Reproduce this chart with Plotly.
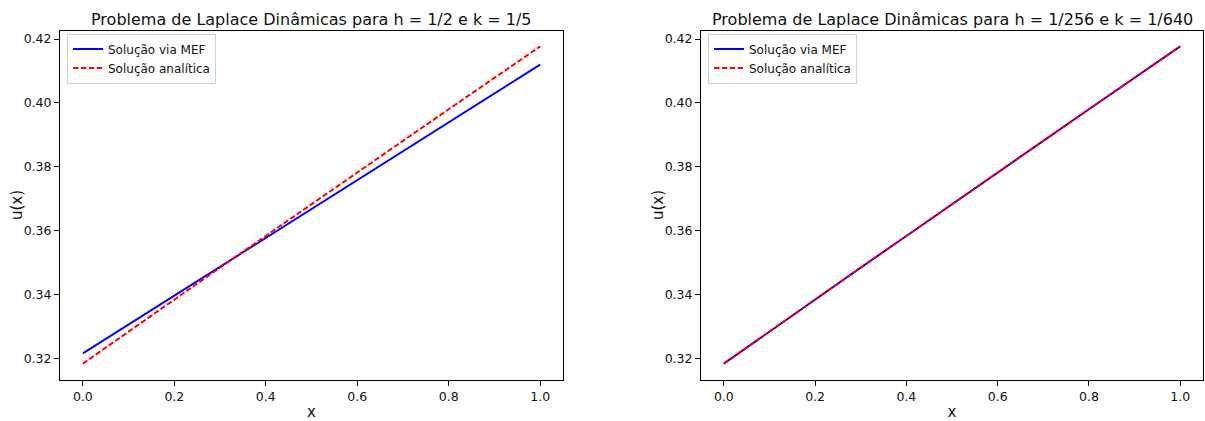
import plotly.graph_objects as go

# Coarse mesh (h = 1/2): finite element nodal values
x_mef_coarse = [0.0, 0.5, 1.0]
u_mef_coarse = [0.3215, 0.3668, 0.4120]

# Fine mesh (h = 1/256): finite element values, sampled
x_mef_fine = [0.0, 0.1, 0.2, 0.3, 0.4, 0.5, 0.6, 0.7, 0.8, 0.9, 1.0]
u_mef_fine = [0.3183, 0.3284, 0.3384, 0.3484, 0.3583, 0.3683, 0.3782, 0.3881, 0.3980, 0.4079, 0.4177]

# Analytic solution, sampled
x_exact = [0.0, 0.1, 0.2, 0.3, 0.4, 0.5, 0.6, 0.7, 0.8, 0.9, 1.0]
u_exact = [0.3183, 0.3284, 0.3384, 0.3484, 0.3583, 0.3683, 0.3782, 0.3881, 0.3980, 0.4079, 0.4177]

titles = [
    "Problema de Laplace Dinâmicas para h = 1/2 e k = 1/5",
    "Problema de Laplace Dinâmicas para h = 1/256 e k = 1/640",
]
x_ticks = [0.0, 0.2, 0.4, 0.6, 0.8, 1.0]
y_ticks = [0.32, 0.34, 0.36, 0.38, 0.40, 0.42]

FONT = "DejaVu Sans"
W, H = 1205, 421

fig = go.Figure()

panels = [
    (x_mef_coarse, u_mef_coarse, "", "legend"),
    (x_mef_fine, u_mef_fine, "2", "legend2"),
]
for (xm, um, sfx, leg) in panels:
    fig.add_trace(go.Scatter(
        x=xm, y=um, mode="lines", name="Solução via MEF",
        line=dict(color="#0000ff", width=2),
        xaxis="x" + sfx, yaxis="y" + sfx, legend=leg,
    ))
    fig.add_trace(go.Scatter(
        x=x_exact, y=u_exact, mode="lines", name="Solução analítica",
        line=dict(color="#ff0000", width=2, dash="5.5px,2.4px"),
        xaxis="x" + sfx, yaxis="y" + sfx, legend=leg,
    ))


def auto_range(vals):
    lo, hi = min(vals), max(vals)
    pad = 0.05 * (hi - lo)
    return [lo - pad, hi + pad]


xr = auto_range([0.0, 1.0])
yr_left = auto_range(u_mef_coarse + u_exact)
yr_right = auto_range(u_mef_fine + u_exact)

# Axes areas in pixels (left, right, top, bottom)
boxes = [(60, 563, 31, 385), (701, 1203, 31, 385)]


def px_x(p):
    return p / W


def px_y(p):
    return 1 - p / H


axis_common = dict(
    showline=True, linecolor="#000", linewidth=1, mirror=True,
    ticks="outside", ticklen=5, tickwidth=1, tickcolor="#000",
    showgrid=False, zeroline=False,
    tickfont=dict(family=FONT, size=12.5, color="#111"),
)

layout = dict(
    width=W, height=H,
    margin=dict(l=0, r=0, t=0, b=0),
    paper_bgcolor="white", plot_bgcolor="white",
    font=dict(family=FONT, color="#111"),
    annotations=[],
)

for i, (l, r, t, b) in enumerate(boxes):
    sfx = "" if i == 0 else "2"
    yr = yr_left if i == 0 else yr_right
    layout["xaxis" + sfx] = dict(
        axis_common, domain=[px_x(l), px_x(r)], range=xr,
        tickvals=x_ticks, tickformat=".1f",
        anchor="y" + sfx,
        title=dict(text="x", font=dict(family=FONT, size=15, color="#111"), standoff=7),
    )
    layout["yaxis" + sfx] = dict(
        axis_common, domain=[px_y(b), px_y(t)], range=yr,
        tickvals=y_ticks, tickformat=".2f",
        anchor="x" + sfx,
    )
    # y-axis label
    layout["annotations"].append(dict(
        text="u(x)", xref="paper", yref="paper",
        x=px_x(l - 43), y=(px_y(b) + px_y(t)) / 2,
        xanchor="center", yanchor="middle", textangle=-90, showarrow=False,
        font=dict(family=FONT, size=15, color="#111"),
    ))
    # subplot title
    layout["annotations"].append(dict(
        text=titles[i], xref="paper", yref="paper",
        x=(px_x(l) + px_x(r)) / 2, y=px_y(t),
        xanchor="center", yanchor="bottom", showarrow=False,
        font=dict(family=FONT, size=16, color="#111"),
    ))
    layout["legend" if i == 0 else "legend2"] = dict(
        x=px_x(l + 7), y=px_y(t + 3), xanchor="left", yanchor="top",
        bgcolor="rgba(255,255,255,0.8)", bordercolor="#d0d0d0", borderwidth=1,
        font=dict(family=FONT, size=12, color="#111"),
        itemwidth=30, tracegroupgap=0,
    )

fig.update_layout(**layout)
fig.write_html("out.html")
